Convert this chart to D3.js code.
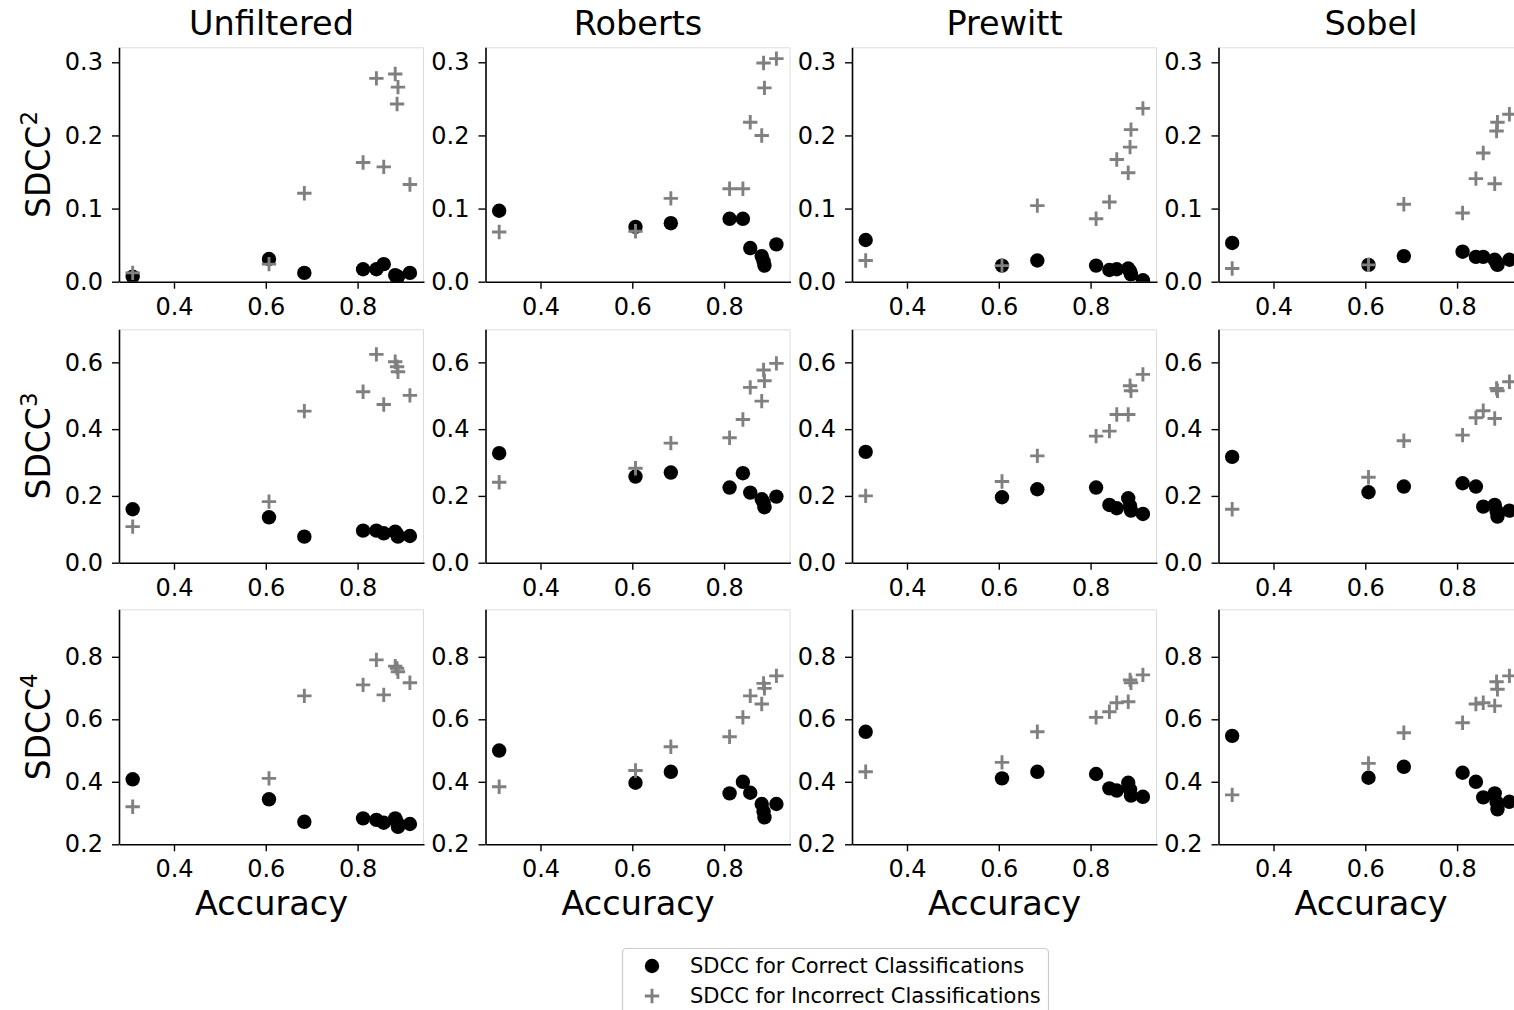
<!DOCTYPE html>
<html><head><meta charset="utf-8">
<script src="https://cdn.jsdelivr.net/npm/d3@7"></script>
<style>body{margin:0;background:#fff}svg{display:block}text{font-family:"DejaVu Sans",sans-serif}</style>
</head><body><svg id="chart" width="1514" height="1010"></svg>
<script>
// ---------- data ----------
const filters = ["Unfiltered", "Roberts", "Prewitt", "Sobel"];
const degrees = ["2", "3", "4"];
const accuracy = [0.310, 0.607, 0.684, 0.812, 0.841, 0.857, 0.882, 0.886, 0.888, 0.914];
const xTicks = [0.4, 0.6, 0.8];
const yTicksSdcc2 = [0, 0.1, 0.2, 0.3];
const yTicksSdcc3 = [0, 0.2, 0.4, 0.6];
const yTicksSdcc4 = [0.2, 0.4, 0.6, 0.8];
const legendLabels = ["SDCC for Correct Classifications", "SDCC for Incorrect Classifications"];

// SDCC^2, one array per filter (Unfiltered, Roberts, Prewitt, Sobel)
const sdcc2Correct = [
  [0.007, 0.031, 0.012, 0.017, 0.017, 0.024, 0.009, 0.005, 0.007, 0.012],
  [0.097, 0.075, 0.080, 0.086, 0.086, 0.046, 0.035, 0.028, 0.022, 0.051],
  [0.057, 0.022, 0.029, 0.022, 0.016, 0.017, 0.018, 0.014, 0.010, 0.002],
  [0.053, 0.023, 0.035, 0.041, 0.034, 0.034, 0.030, 0.026, 0.023, 0.030]
];
const sdcc2Incorrect = [
  [0.012, 0.024, 0.121, 0.163, 0.278, 0.157, 0.284, 0.243, 0.266, 0.133],
  [0.068, 0.069, 0.114, 0.127, 0.127, 0.218, 0.200, 0.299, 0.265, 0.305],
  [0.029, 0.022, 0.104, 0.086, 0.109, 0.167, 0.149, 0.184, 0.208, 0.237],
  [0.018, 0.023, 0.106, 0.094, 0.141, 0.176, 0.134, 0.206, 0.218, 0.229]
];
// SDCC^3
const sdcc3Correct = [
  [0.160, 0.136, 0.078, 0.096, 0.096, 0.088, 0.093, 0.085, 0.078, 0.080],
  [0.328, 0.258, 0.270, 0.225, 0.268, 0.210, 0.190, 0.180, 0.166, 0.198],
  [0.332, 0.196, 0.220, 0.225, 0.173, 0.163, 0.193, 0.170, 0.156, 0.146],
  [0.317, 0.211, 0.228, 0.238, 0.228, 0.168, 0.173, 0.155, 0.138, 0.156]
];
const sdcc3Incorrect = [
  [0.108, 0.183, 0.454, 0.512, 0.624, 0.474, 0.602, 0.587, 0.572, 0.501],
  [0.241, 0.283, 0.358, 0.374, 0.429, 0.525, 0.484, 0.577, 0.545, 0.597],
  [0.200, 0.243, 0.320, 0.379, 0.394, 0.444, 0.444, 0.530, 0.515, 0.564],
  [0.160, 0.256, 0.365, 0.382, 0.434, 0.455, 0.432, 0.522, 0.515, 0.542]
];
// SDCC^4
const sdcc4Correct = [
  [0.408, 0.344, 0.272, 0.283, 0.278, 0.269, 0.283, 0.270, 0.256, 0.265],
  [0.500, 0.397, 0.432, 0.363, 0.400, 0.365, 0.329, 0.305, 0.286, 0.329],
  [0.560, 0.411, 0.432, 0.425, 0.379, 0.372, 0.397, 0.375, 0.356, 0.352],
  [0.547, 0.413, 0.448, 0.429, 0.400, 0.350, 0.363, 0.335, 0.312, 0.336]
];
const sdcc4Incorrect = [
  [0.320, 0.411, 0.675, 0.710, 0.790, 0.678, 0.770, 0.763, 0.752, 0.717],
  [0.384, 0.436, 0.512, 0.544, 0.606, 0.675, 0.649, 0.715, 0.699, 0.739],
  [0.432, 0.462, 0.560, 0.606, 0.624, 0.653, 0.656, 0.726, 0.717, 0.742],
  [0.358, 0.459, 0.557, 0.589, 0.649, 0.653, 0.643, 0.720, 0.696, 0.739]
];

const correctRows = [sdcc2Correct, sdcc3Correct, sdcc4Correct];
const incorrectRows = [sdcc2Incorrect, sdcc3Incorrect, sdcc4Incorrect];
const yTickRows = [yTicksSdcc2, yTicksSdcc3, yTicksSdcc4];

// ---------- layout ----------
const colLeft = [119, 485.5, 852, 1218.5];
const panelW = 305;
const rowTop = [47.3, 329.3, 609.3];
const rowBottom = [281.7, 562.7, 844.3];
const yDomains = [[0, 0.3205], [0, 0.699], [0.2, 0.952]];
const xDomain = [0.2802, 0.9447];
const gray = "#808080";

const svg = d3.select("#chart");
const defs = svg.append("defs");

const crossPath = (s) => `M${-s},0H${s}M0,${-s}V${s}`;

degrees.forEach((deg, r) => {
  const h = rowBottom[r] - rowTop[r];
  const y = d3.scaleLinear().domain(yDomains[r]).range([h, 0]);
  filters.forEach((f, c) => {
    const x = d3.scaleLinear().domain(xDomain).range([0, panelW]);
    const g = svg.append("g").attr("transform", `translate(${colLeft[c]},${rowTop[r]})`);
    const cid = `clip-${r}-${c}`;
    defs.append("clipPath").attr("id", cid)
      .append("rect").attr("x", 0).attr("y", 0).attr("width", panelW).attr("height", h);

    // light top/right frame
    g.append("path").attr("d", `M0,0.5H${panelW - 0.5}V${h}`)
      .attr("fill", "none").attr("stroke", "#dcdcdc").attr("stroke-width", 1);

    const pts = g.append("g").attr("clip-path", `url(#${cid})`);
    pts.selectAll("circle").data(accuracy.map((a, i) => [a, correctRows[r][c][i]]))
      .join("circle")
      .attr("cx", d => x(d[0])).attr("cy", d => y(d[1])).attr("r", 7.2).attr("fill", "#000");
    pts.selectAll("path.cross").data(accuracy.map((a, i) => [a, incorrectRows[r][c][i]]))
      .join("path").attr("class", "cross")
      .attr("transform", d => `translate(${x(d[0])},${y(d[1])})`)
      .attr("d", crossPath(7.2)).attr("stroke", gray).attr("stroke-width", 2.9).attr("fill", "none");

    const xAxis = g.append("g").attr("transform", `translate(0,${h})`)
      .call(d3.axisBottom(x).tickValues(xTicks).tickFormat(d3.format(".1f"))
        .tickSizeInner(7).tickSizeOuter(0).tickPadding(9));
    const yAxis = g.append("g")
      .call(d3.axisLeft(y).tickValues(yTickRows[r]).tickFormat(d3.format(".1f"))
        .tickSizeInner(7).tickSizeOuter(0).tickPadding(9));
    [xAxis, yAxis].forEach(ax => {
      ax.select(".domain").attr("stroke", "#000").attr("stroke-width", 1.6);
      ax.selectAll(".tick line").attr("stroke", "#000").attr("stroke-width", 1.4);
      ax.selectAll(".tick text").attr("fill", "#000")
        .style("font-family", '"DejaVu Sans", sans-serif').style("font-size", "24px");
    });

    if (r === 0) {
      svg.append("text").attr("x", colLeft[c] + panelW / 2).attr("y", 35)
        .attr("text-anchor", "middle").style("font-size", "33.5px").attr("fill", "#000").text(f);
    }
    if (r === degrees.length - 1) {
      svg.append("text").attr("x", colLeft[c] + panelW / 2).attr("y", 915)
        .attr("text-anchor", "middle").style("font-size", "33.5px").attr("fill", "#000").text("Accuracy");
    }
  });
  const lbl = svg.append("text")
    .attr("transform", `translate(50,${(rowTop[r] + rowBottom[r]) / 2}) rotate(-90)`)
    .attr("text-anchor", "middle").style("font-size", "33px").attr("fill", "#000");
  lbl.append("tspan").text("SDCC");
  lbl.append("tspan").attr("dy", -13).style("font-size", "23px").text(deg);
});

// ---------- legend ----------
const lg = svg.append("g");
lg.append("rect").attr("x", 622.5).attr("y", 948.5).attr("width", 426).attr("height", 90)
  .attr("rx", 4).attr("fill", "#fff").attr("stroke", "#cccccc").attr("stroke-width", 1.2);
lg.append("circle").attr("cx", 652).attr("cy", 966).attr("r", 7.2).attr("fill", "#000");
lg.append("path").attr("transform", "translate(652,996)").attr("d", crossPath(7.2))
  .attr("stroke", gray).attr("stroke-width", 2.9);
legendLabels.forEach((t, i) => {
  lg.append("text").attr("x", 690).attr("y", 966 + i * 30).attr("dy", "0.35em")
    .style("font-size", "21px").attr("fill", "#000").text(t);
});
</script></body></html>
